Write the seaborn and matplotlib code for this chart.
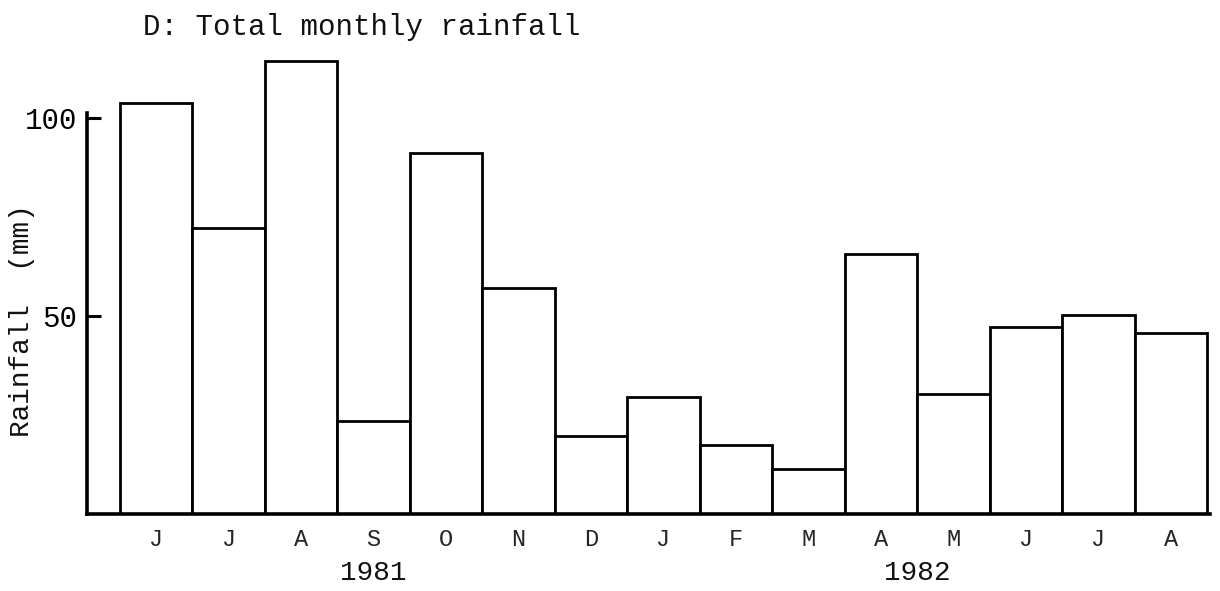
import matplotlib
matplotlib.use("Agg")
import matplotlib.pyplot as plt
import seaborn as sns
import pandas as pd

# Monthly rainfall, June 1981 - August 1982
month_initials = ["J", "J", "A", "S", "O", "N", "D", "J", "F", "M", "A", "M", "J", "J", "A"]
month_numbers = [6, 7, 8, 9, 10, 11, 12, 1, 2, 3, 4, 5, 6, 7, 8]
years = [1981] * 7 + [1982] * 8
rainfall_mm = [103.6, 72.1, 114.3, 23.5, 91.0, 57.0, 19.6, 29.5, 17.4, 11.3,
               65.6, 30.2, 47.1, 50.2, 45.6]
y_ticks = [50, 100]
year_labels = [1981, 1982]

df = pd.DataFrame({
    "period": [f"{y}-{m:02d}" for y, m in zip(years, month_numbers)],
    "year": years,
    "rainfall": rainfall_mm,
})

sns.set_style("white")
plt.rcParams["font.family"] = ["Liberation Mono", "DejaVu Sans Mono"]
plt.rcParams["text.color"] = "#111111"

fig = plt.figure(figsize=(12.2, 5.91), dpi=100)
ax = fig.add_axes([0.0713, 0.1308, 0.9205, 0.7706])

sns.barplot(data=df, x="period", y="rainfall", order=list(df["period"]),
            width=1.0, color="white", saturation=1, edgecolor="black",
            linewidth=2.0, ax=ax)

ax.set_xlim(-0.955, len(df) - 0.46)
ax.set_ylim(0, 115)

# axes: only left and bottom lines, left line stops just above 100
for side in ("top", "right"):
    ax.spines[side].set_visible(False)
ax.spines["left"].set_bounds(0, 101.2)
for side in ("left", "bottom"):
    ax.spines[side].set_linewidth(2.6)
    ax.spines[side].set_color("black")

ax.set_yticks(y_ticks)
ax.set_yticklabels([str(t) for t in y_ticks], fontsize=21)
ax.tick_params(axis="y", direction="in", length=10, width=2.2, pad=7,
               colors="black", left=True)

ax.set_xticks(range(len(df)))
ax.set_xticklabels(month_initials, fontsize=17)
ax.tick_params(axis="x", length=0, pad=10)

ax.set_xlabel("")
ax.set_ylabel("")

# year captions centred under each year's months
for yr in year_labels:
    idx = [i for i, y in enumerate(years) if y == yr]
    xc = sum(idx) / len(idx)
    ax.annotate(str(yr), xy=(xc, -0.13), xycoords=("data", "axes fraction"),
                ha="center", va="center", fontsize=20, annotation_clip=False)

fig.text(143 / 1220, 1 - 35 / 591, "D: Total monthly rainfall",
         fontsize=21, va="baseline", ha="left")
fig.text(22 / 1220, 1 - 321 / 591, "Rainfall  (mm)", rotation=90,
         va="center", ha="center", fontsize=20)

fig.savefig("out.png", dpi=100, facecolor="white")
